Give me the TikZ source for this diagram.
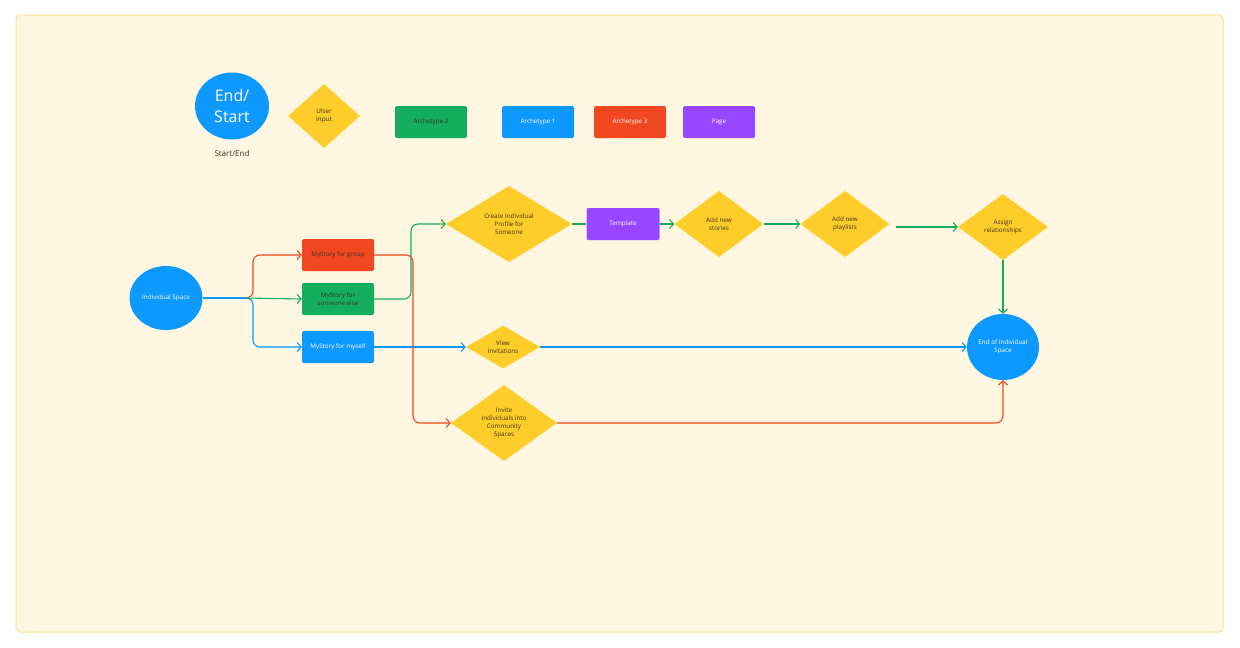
\documentclass[tikz,border=0pt]{standalone}
\usepackage{fontspec}
\setmainfont{Open Sans}
\usetikzlibrary{arrows.meta,shapes.geometric}
\definecolor{fblue}{HTML}{0D99FF}
\definecolor{fgreen}{HTML}{14AE5C}
\definecolor{fred}{HTML}{F24822}
\definecolor{fpurple}{HTML}{9747FF}
\definecolor{fyellow}{HTML}{FFCD29}
\definecolor{bgfill}{HTML}{FFF7E1}
\definecolor{bgline}{HTML}{FCE38A}
\definecolor{txtdark}{HTML}{3B3320}
\tikzset{
  box/.style={rectangle,rounded corners=1.5pt,minimum width=72pt,minimum height=32pt,inner sep=1pt,align=center,font=\fontsize{6.3}{7.8}\selectfont},
  dia/.style={diamond,fill=fyellow,inner sep=0pt,align=center,text=txtdark,font=\fontsize{6.3}{7.8}\selectfont},
  oval/.style={ellipse,fill=fblue,inner sep=0pt,align=center,text=white,font=\fontsize{6.3}{7.8}\selectfont},
  conn/.style={line width=1.1pt,rounded corners=7pt,-{Straight Barb[length=4pt,width=9pt,line width=1.1pt]}},
  plain/.style={line width=1.1pt,rounded corners=7pt},
}
\begin{document}
\begin{tikzpicture}[x=1pt,y=-1pt]
\useasboundingbox (0,0) rectangle (1240,648);
\fill[white] (0,0) rectangle (1240,648);
\draw[bgline,fill=bgfill,line width=1pt,rounded corners=4pt] (16,15) rectangle (1223,632);

% legend
\node[oval,minimum width=74pt,minimum height=67pt,font=\fontsize{16}{21}\selectfont] (es) at (232,106) {End/\\Start};
\node[text=txtdark,font=\fontsize{8}{10}\selectfont] (eslbl) at (232,153) {Start/End};
\node[dia,minimum width=72pt,minimum height=64pt] (ui) at (324,116) {Ulser\\Input};
\node[box,fill=fgreen,text=txtdark] (a2) at (431,122) {Archetype 2};
\node[box,fill=fblue,text=white] (a1) at (538,122) {Archetype 1};
\node[box,fill=fred,text=white] (a3) at (630,122) {Archetype 3};
\node[box,fill=fpurple,text=white] (pg) at (719,122) {Page};

% main flow
\node[oval,minimum width=73pt,minimum height=64pt] (is) at (166,298) {Individual Space};
\node[box,fill=fred,text=txtdark] (grp) at (338,255) {MyStory for group};
\node[box,fill=fgreen,text=txtdark] (else) at (338,299) {MyStory for\\someone else};
\node[box,fill=fblue,text=white] (me) at (338,347) {MyStory for myself};
\node[dia,minimum width=126pt,minimum height=76pt] (cip) at (509,224) {Create Individual\\Profile for\\Someone};
\node[box,fill=fpurple,text=white,minimum width=73pt] (tpl) at (623,224) {Template};
\node[dia,minimum width=89pt,minimum height=66pt] (ans) at (719,224) {Add new\\stories};
\node[dia,minimum width=89pt,minimum height=66pt] (anp) at (845,224) {Add new\\playlists};
\node[dia,minimum width=90pt,minimum height=66pt] (ar) at (1003,227) {Assign\\relationships};
\node[oval,minimum width=72pt,minimum height=66pt] (eis) at (1003,347) {End of Individual\\Space};
\node[dia,minimum width=74pt,minimum height=42pt] (vi) at (503,347) {View\\Invitations};
\node[dia,minimum width=106pt,minimum height=76pt] (inv) at (504,423) {Invite\\Individuals into\\Community\\Spaces};

\coordinate (split) at (245,298);
\coordinate (pl) at (896,227);

% connectors
\draw[plain,fblue] (is.east) -- (split);
\draw[conn,fblue] (split) -- (253,298) |- (me.west);
\draw[conn,fred] (split) -- (253,298) |- (grp.west);
\draw[conn,fgreen] (split) -- (else.west);
\draw[conn,fblue] (me.east) -- (vi.west);
\draw[conn,fblue] (vi.east) -- (eis.west);
\draw[conn,fgreen] (else.east) -- (411,299) |- (cip.west);
\draw[conn,fred] (grp.east) -- (413,255) |- (inv.west);
\draw[plain,fgreen] (cip.east) -- (tpl.west);
\draw[conn,fgreen] (tpl.east) -- (ans.west);
\draw[conn,fgreen] (ans.east) -- (anp.west);
\draw[conn,fgreen] (pl) -- (ar.west);
\draw[conn,fgreen] (ar.south) -- (eis.north);
\draw[conn,fred] (inv.east) -| (eis.south);
\end{tikzpicture}
\end{document}
